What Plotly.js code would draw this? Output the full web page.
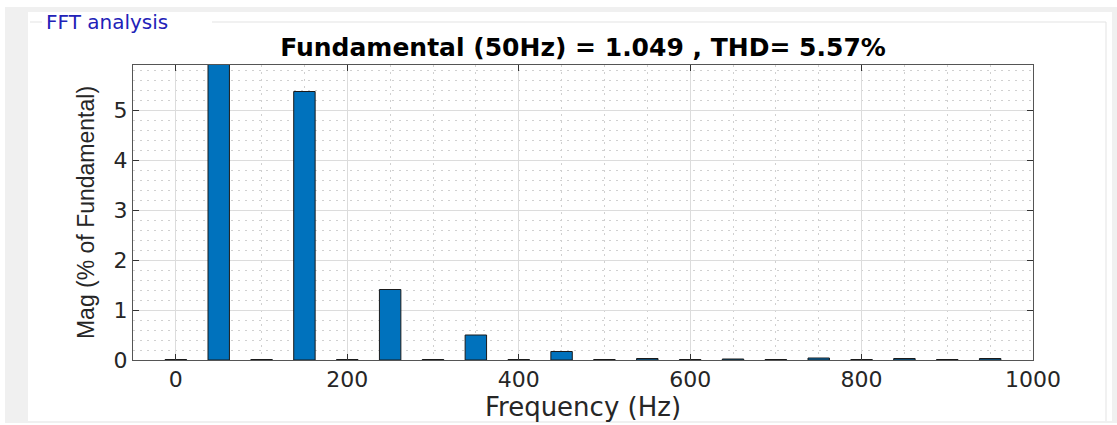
<!DOCTYPE html>
<html>
<head>
<meta charset="utf-8">
<script src="https://cdn.plot.ly/plotly-3.0.1.min.js"></script>
<style>
html,body{margin:0;padding:0;background:#fff;}
#chart{width:1117px;height:425px;}
</style>
</head>
<body>
<div id="chart"></div>
<script>
// Data
const frequencies = [0, 50, 100, 150, 200, 250, 300, 350, 400, 450, 500, 550, 600, 650, 700, 750, 800, 850, 900, 950];
const magnitudes  = [0.01, 100, 0.01, 5.37, 0.01, 1.41, 0.01, 0.50, 0.01, 0.17, 0.01, 0.03, 0.01, 0.02, 0.01, 0.04, 0.01, 0.03, 0.01, 0.03];
const xTickVals = [0, 200, 400, 600, 800, 1000];
const yTickVals = [0, 1, 2, 3, 4, 5];
const chartTitle = "Fundamental (50Hz) = 1.049 , THD= 5.57%";
const panelTitle = "FFT analysis";
const xTitle = "Frequency (Hz)";
const yTitle = "Mag (% of Fundamental)";

const W = 1117, H = 425;
const M = {l:133, r:84, t:65, b:65};
const PW = W - M.l - M.r, PH = H - M.t - M.b;
const px = v => (v - M.l) / PW;
const py = v => (H - M.b - v) / PH;

function rect(x0,y0,x1,y1,fill){
  return {type:'rect', xref:'paper', yref:'paper', layer:'below',
    x0:px(x0), x1:px(x1), y0:py(y1), y1:py(y0),
    fillcolor:fill, line:{width:0}};
}
function seg(x0,y0,x1,y1,color){
  return {type:'line', xref:'paper', yref:'paper', layer:'below',
    x0:px(x0), x1:px(x1), y0:py(y0), y1:py(y1), line:{width:1, color:color}};
}

const trace = {
  type:'bar', x:frequencies, y:magnitudes, width:25,
  marker:{color:'#0072BD', line:{color:'#1a1a1a', width:1}},
  hoverinfo:'x+y'
};

const tickFont = {family:'DejaVu Sans, Arial, sans-serif', size:22, color:'#262626'};

const layout = {
  width:W, height:H,
  margin:M,
  paper_bgcolor:'#ffffff',
  plot_bgcolor:'rgba(0,0,0,0)',
  showlegend:false,
  bargap:0,
  title:{text:'<b>'+chartTitle+'</b>', font:{family:'DejaVu Sans, Arial, sans-serif', size:25, color:'#000'},
    xref:'paper', x:0.5, xanchor:'center', yref:'container', y:1-47/H, yanchor:'middle'},
  xaxis:{
    range:[-50,1000], tickvals:xTickVals, ticktext:xTickVals.map(String),
    tickfont:tickFont, ticks:'inside', ticklen:6, tickcolor:'#333',
    showline:true, linecolor:'#555', linewidth:1, mirror:'ticks',
    showgrid:true, gridcolor:'#dcdcdc', gridwidth:1, zeroline:false,
    minor:{dtick:50, tick0:0, showgrid:true, gridcolor:'#d0d0d0', griddash:'2px,5px', ticks:''},
    title:{text:xTitle, font:{family:'DejaVu Sans, Arial, sans-serif', size:26, color:'#262626'}, standoff:4},
    fixedrange:true
  },
  yaxis:{
    range:[0,5.9], tickvals:yTickVals, ticktext:yTickVals.map(String),
    tickfont:tickFont, ticks:'inside', ticklen:6, tickcolor:'#333',
    showline:true, linecolor:'#555', linewidth:1, mirror:'ticks',
    showgrid:true, gridcolor:'#dcdcdc', gridwidth:1, zeroline:false,
    minor:{dtick:0.2, tick0:0, showgrid:true, gridcolor:'#d0d0d0', griddash:'2px,5px', ticks:''},
    title:{text:yTitle, font:{family:'Liberation Sans, Arial, sans-serif', size:23, color:'#262626'}, standoff:12},
    fixedrange:true
  },
  shapes:[
    rect(5,7,1117,423,'#f0f0f0'),
    rect(28,12,1112,421,'#ffffff'),
    seg(30,22,42,22,'#e3e3e3'),
    seg(212,22,1106,22,'#e3e3e3'),
    seg(1106,22,1106,421,'#e3e3e3')
  ],
  annotations:[
    {text:panelTitle, xref:'paper', yref:'paper', x:px(44), y:py(22), xanchor:'left', yanchor:'middle',
     showarrow:false, font:{family:'DejaVu Sans, Arial, sans-serif', size:20, color:'#2222b8'}}
  ]
};

Plotly.newPlot('chart', [trace], layout, {displayModeBar:false, staticPlot:true});
</script>
</body>
</html>
